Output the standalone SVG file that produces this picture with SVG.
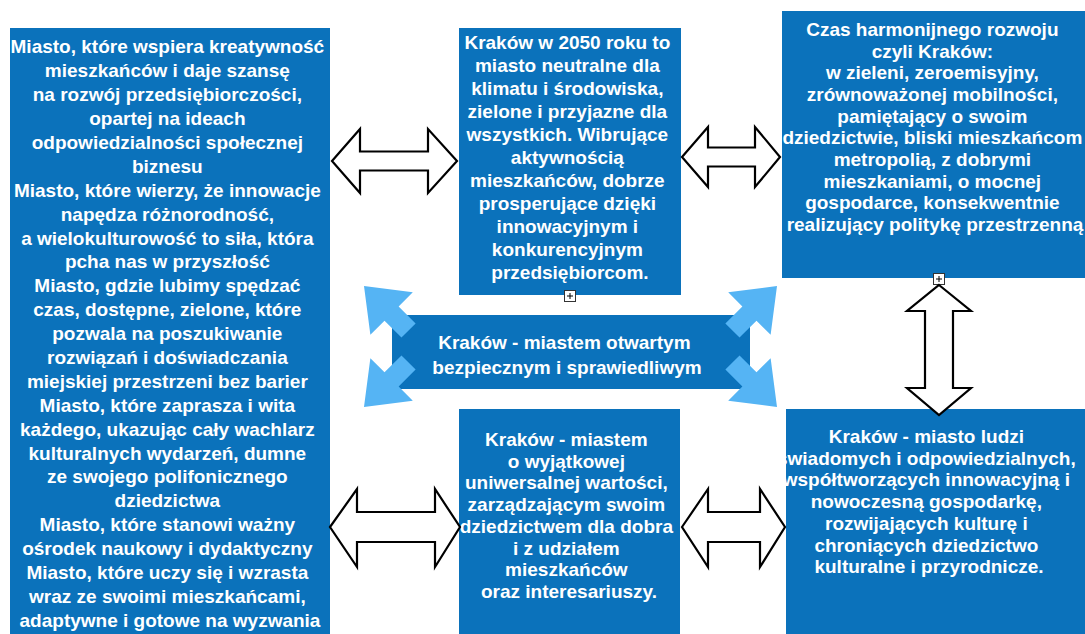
<svg xmlns="http://www.w3.org/2000/svg" width="1085" height="634" viewBox="0 0 1085 634">
<style>
.box{fill:#0b72bb}
.t{font-family:"Liberation Sans",Arial,Helvetica,sans-serif;font-weight:bold;font-size:19px;fill:#ffffff;text-anchor:middle}
.dbl{fill:#ffffff;stroke:#000000;stroke-width:2.2;stroke-linejoin:miter}
.lb{fill:#55b4f4}
.plus{fill:#ffffff;stroke:#333333;stroke-width:1}
</style>
<defs>
<polygon id="ca" points="0,0 -39,-30 -39,-10 -63,-10 -63,10 -39,10 -39,30"/>
</defs>
<rect width="1085" height="634" fill="#ffffff"/>

<g id="node-left">
  <rect class="box" x="10" y="28" width="320" height="606"/>
  <text class="t">
    <tspan x="170" y="53">Miasto, które wspiera kreatywność</tspan>
    <tspan x="170" y="77">mieszkańców i daje szansę</tspan>
    <tspan x="170" y="101">na rozwój przedsiębiorczości,</tspan>
    <tspan x="170" y="125">opartej na ideach</tspan>
    <tspan x="170" y="149">odpowiedzialności społecznej</tspan>
    <tspan x="170" y="172.5">biznesu</tspan>
    <tspan x="170" y="196.5">Miasto, które wierzy, że innowacje</tspan>
    <tspan x="170" y="220.5">napędza różnorodność,</tspan>
    <tspan x="170" y="244.5">a wielokulturowość to siła, która</tspan>
    <tspan x="170" y="268">pcha nas w przyszłość</tspan>
    <tspan x="170" y="292">Miasto, gdzie lubimy spędzać</tspan>
    <tspan x="170" y="316">czas, dostępne, zielone, które</tspan>
    <tspan x="170" y="340">pozwala na poszukiwanie</tspan>
    <tspan x="170" y="364">rozwiązań i doświadczania</tspan>
    <tspan x="170" y="387.5">miejskiej przestrzeni bez barier</tspan>
    <tspan x="170" y="411.5">Miasto, które zaprasza i wita</tspan>
    <tspan x="170" y="435.5">każdego, ukazując cały wachlarz</tspan>
    <tspan x="170" y="459.5">kulturalnych wydarzeń, dumne</tspan>
    <tspan x="170" y="483">ze swojego polifonicznego</tspan>
    <tspan x="170" y="507">dziedzictwa</tspan>
    <tspan x="170" y="531">Miasto, które stanowi ważny</tspan>
    <tspan x="170" y="555">ośrodek naukowy i dydaktyczny</tspan>
    <tspan x="170" y="579">Miasto, które uczy się i wzrasta</tspan>
    <tspan x="170" y="602.5">wraz ze swoimi mieszkańcami,</tspan>
    <tspan x="170" y="626.5">adaptywne i gotowe na wyzwania</tspan>
  </text>
</g>

<g id="node-center-top">
  <rect class="box" x="459" y="28" width="222" height="267"/>
  <text class="t">
    <tspan x="570" y="49">Kraków w 2050 roku to</tspan>
    <tspan x="570" y="72">miasto neutralne dla</tspan>
    <tspan x="570" y="95">klimatu i środowiska,</tspan>
    <tspan x="570" y="118">zielone i przyjazne dla</tspan>
    <tspan x="570" y="141">wszystkich. Wibrujące</tspan>
    <tspan x="570" y="164">aktywnością</tspan>
    <tspan x="570" y="187">mieszkańców, dobrze</tspan>
    <tspan x="570" y="210">prosperujące dzięki</tspan>
    <tspan x="570" y="233">innowacyjnym i</tspan>
    <tspan x="570" y="256">konkurencyjnym</tspan>
    <tspan x="570" y="279">przedsiębiorcom.</tspan>
  </text>
  <rect class="plus" x="564.5" y="290.5" width="11" height="11"/>
  <path d="M567 296h6M570 293v6" stroke="#000" stroke-width="1"/>
</g>

<g id="node-right-top">
  <rect class="box" x="782" y="11" width="303" height="267"/>
  <text class="t">
    <tspan x="935" y="36">Czas harmonijnego rozwoju</tspan>
    <tspan x="935" y="57.7">czyli Kraków:</tspan>
    <tspan x="935" y="79.3">w zieleni, zeroemisyjny,</tspan>
    <tspan x="935" y="101">zrównoważonej mobilności,</tspan>
    <tspan x="935" y="122.7">pamiętający o swoim</tspan>
    <tspan x="935" y="144.3">dziedzictwie, bliski mieszkańcom</tspan>
    <tspan x="935" y="166">metropolią, z dobrymi</tspan>
    <tspan x="935" y="187.7">mieszkaniami, o mocnej</tspan>
    <tspan x="935" y="209.3">gospodarce, konsekwentnie</tspan>
    <tspan x="935" y="231">realizujący politykę przestrzenną</tspan>
  </text>
  <rect class="plus" x="933.5" y="273.5" width="11" height="11"/>
  <path d="M936 279h6M939 276v6" stroke="#000" stroke-width="1"/>
</g>

<g id="node-center">
  <rect class="box" x="392" y="315" width="358" height="74"/>
  <text class="t">
    <tspan x="567" y="348.5">Kraków - miastem otwartym</tspan>
    <tspan x="567" y="373.5">bezpiecznym i sprawiedliwym</tspan>
  </text>
</g>

<g id="node-center-bottom">
  <rect class="box" x="459" y="409" width="221" height="225"/>
  <text class="t">
    <tspan x="569" y="446">Kraków - miastem</tspan>
    <tspan x="569" y="467.7">o wyjątkowej</tspan>
    <tspan x="569" y="489.4">uniwersalnej wartości,</tspan>
    <tspan x="569" y="511.1">zarządzającym swoim</tspan>
    <tspan x="569" y="532.8">dziedzictwem dla dobra</tspan>
    <tspan x="569" y="554.5">i z udziałem</tspan>
    <tspan x="569" y="576.2">mieszkańców</tspan>
    <tspan x="569" y="597.9">oraz interesariuszy.</tspan>
  </text>
</g>

<g id="node-right-bottom">
  <rect class="box" x="786" y="409" width="299" height="225"/>
  <text class="t">
    <tspan x="929" y="443">Kraków - miasto ludzi</tspan>
    <tspan x="929" y="464.7">świadomych i odpowiedzialnych,</tspan>
    <tspan x="929" y="486.4">współtworzących innowacyjną i</tspan>
    <tspan x="929" y="508.1">nowoczesną gospodarkę,</tspan>
    <tspan x="929" y="529.8">rozwijających kulturę i</tspan>
    <tspan x="929" y="551.5">chroniących dziedzictwo</tspan>
    <tspan x="929" y="573.2">kulturalne i przyrodnicze.</tspan>
  </text>
</g>

<g id="connectors">
  <!-- light blue corner arrows around the center banner -->
  <use href="#ca" class="lb" transform="translate(364,286) rotate(-135)"/>
  <use href="#ca" class="lb" transform="translate(777,286) rotate(-45)"/>
  <use href="#ca" class="lb" transform="translate(364,407) rotate(135)"/>
  <use href="#ca" class="lb" transform="translate(777,407) rotate(45)"/>
  <!-- double outline arrows -->
  <polygon class="dbl" points="332,161 360,129 360,151.5 428,151.5 428,129 457,161 428,193 428,170.5 360,170.5 360,193"/>
  <polygon class="dbl" points="682,157 708,127 708,147.5 755,147.5 755,127 780,157 755,187 755,166.5 708,166.5 708,187"/>
  <polygon class="dbl" points="939,285 971,311 953,311 953,388 971,388 939,415 907,388 925,388 925,311 907,311"/>
  <polygon class="dbl" points="330,527 357,489 357,512 435,512 435,489 460,527 435,567 435,542 357,542 357,567"/>
  <polygon class="dbl" points="682,527 708,489 708,512 760,512 760,489 785,527 760,567 760,542 708,542 708,567"/>
</g>
</svg>
